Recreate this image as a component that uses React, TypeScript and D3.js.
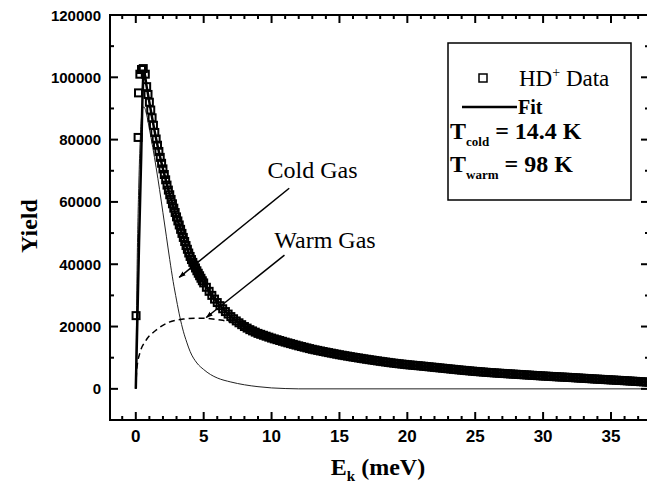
import React from 'react';
import * as d3 from 'd3';

// ---------- data ----------
const dataE = [
  0.02, 0.17, 0.2, 0.3, 0.42, 0.55, 0.7,
  0.8, 0.9, 1.0, 1.1, 1.2, 1.3, 1.4, 1.5, 1.6, 1.7, 1.8, 1.9,
  2.0, 2.1, 2.2, 2.3, 2.4, 2.5, 2.6, 2.7, 2.8, 2.9,
  3.0, 3.1, 3.2, 3.3, 3.4, 3.5, 3.6, 3.7, 3.8, 3.9,
  4.0, 4.1, 4.2, 4.3, 4.4, 4.5, 4.6, 4.7, 4.8, 4.9, 5.0,
  5.2, 5.4, 5.6, 5.8, 6.0, 6.2, 6.4, 6.6, 6.8, 7.0, 7.2, 7.4, 7.6, 7.8,
  8.0, 8.2, 8.4, 8.6, 8.8, 9.0, 9.2, 9.4, 9.6, 9.8,
  10.0, 10.2, 10.4, 10.6, 10.8, 11.0, 11.2, 11.4, 11.6, 11.8,
  12.0, 12.2, 12.4, 12.6, 12.8, 13.0, 13.2, 13.4, 13.6, 13.8,
  14.0, 14.2, 14.4, 14.6, 14.8, 15.0, 15.2, 15.4, 15.6, 15.8,
  16.0, 16.2, 16.4, 16.6, 16.8, 17.0, 17.2, 17.4, 17.6, 17.8,
  18.0, 18.2, 18.4, 18.6, 18.8, 19.0, 19.2, 19.4, 19.6, 19.8,
  20.0, 20.2, 20.4, 20.6, 20.8, 21.0, 21.2, 21.4, 21.6, 21.8,
  22.0, 22.2, 22.4, 22.6, 22.8, 23.0, 23.2, 23.4, 23.6, 23.8,
  24.0, 24.2, 24.4, 24.6, 24.8, 25.0, 25.2, 25.4, 25.6, 25.8,
  26.0, 26.2, 26.4, 26.6, 26.8, 27.0, 27.2, 27.4, 27.6, 27.8,
  28.0, 28.2, 28.4, 28.6, 28.8, 29.0, 29.2, 29.4, 29.6, 29.8,
  30.0, 30.2, 30.4, 30.6, 30.8, 31.0, 31.2, 31.4, 31.6, 31.8,
  32.0, 32.2, 32.4, 32.6, 32.8, 33.0, 33.2, 33.4, 33.6, 33.8,
  34.0, 34.2, 34.4, 34.6, 34.8, 35.0, 35.2, 35.4, 35.6, 35.8,
  36.0, 36.2, 36.4, 36.6, 36.8, 37.0, 37.2, 37.4, 37.6, 37.8,
];
const dataYield = [
  23500, 80700, 95000, 101000, 102500, 102800, 101000,
  97000, 94500, 92000, 89500, 87000, 84600, 82300, 80200, 78200, 76200, 74300, 72400,
  70600, 68800, 67100, 65400, 63800, 62300, 60800, 59400, 58000, 56600,
  55200, 53900, 52600, 51200, 49900, 48600, 47300, 46000, 44800, 43600,
  42500, 41500, 40600, 39700, 38800, 37900, 37100, 36300, 35500, 34700, 34000,
  32600, 31300, 30000, 28800, 27700, 26700, 25700, 24800, 24000, 23200, 22500, 21800, 21200, 20600,
  20000, 19500, 19000, 18600, 18200, 17800, 17500, 17200, 16900, 16600,
  16300, 16030, 15780, 15520, 15260, 15000, 14760, 14520, 14280, 14040,
  13800, 13580, 13360, 13140, 12920, 12700, 12520, 12340, 12160, 11980,
  11800, 11630, 11460, 11290, 11120, 10950, 10800, 10650, 10500, 10350,
  10200, 10060, 9920, 9780, 9640, 9500, 9370, 9240, 9110, 8980,
  8850, 8730, 8610, 8490, 8370, 8250, 8150, 8050, 7950, 7850,
  7750, 7670, 7590, 7510, 7430, 7350, 7260, 7170, 7080, 6990,
  6900, 6810, 6720, 6630, 6540, 6450, 6360, 6270, 6180, 6090,
  6000, 5920, 5840, 5760, 5680, 5600, 5530, 5460, 5390, 5320,
  5250, 5190, 5130, 5070, 5010, 4950, 4900, 4840, 4790, 4730,
  4680, 4620, 4570, 4510, 4460, 4400, 4350, 4290, 4240, 4180,
  4130, 4080, 4030, 3980, 3930, 3880, 3830, 3790, 3740, 3700,
  3650, 3600, 3540, 3490, 3430, 3380, 3330, 3280, 3220, 3170,
  3120, 3070, 3020, 2970, 2920, 2870, 2820, 2770, 2720, 2670,
  2620, 2570, 2510, 2460, 2400, 2350, 2290, 2240, 2180, 2120,
];

const fitE = [0, 0.12, 0.24, 0.4, 0.5, 0.6, 0.8, 1, 1.5, 2, 2.5, 3, 3.5, 4, 4.5, 5, 6, 7, 8, 9, 10, 12, 14, 16, 18, 20, 22, 25, 28, 31, 34, 37.8];
const fitYield = [0, 23000, 47000, 75000, 95000, 102000, 97000, 92000, 80200, 70600, 62300, 55200, 48600, 42500, 37900, 34000, 27700, 23200, 20000, 17800, 16300, 13800, 11800, 10200, 8850, 7750, 6900, 5600, 4680, 3880, 3120, 2120];

const coldE = [0, 0.1, 0.2, 0.3, 0.4, 0.5, 0.6, 0.8, 1.0, 1.25, 1.5, 1.75, 2.0, 2.25, 2.5, 2.75, 3.0, 3.25, 3.5, 3.75, 4.0, 4.5, 5.0, 5.5, 6.0, 7.0, 8.0, 9.0, 10, 11, 12, 37.8];
const coldYield = [0, 40000, 62000, 77000, 86000, 90000, 90500, 88000, 83500, 77500, 71000, 64000, 56500, 49000, 41500, 34500, 28500, 23000, 18500, 15000, 12000, 8300, 6200, 4600, 3500, 2200, 1300, 700, 300, 100, 0, 0];

const warmE = [0, 0.05, 0.12, 0.3, 0.74, 1.48, 2.46, 3.5, 4.5, 5.5, 6.4, 7.4, 8.5, 10, 12, 15, 20, 25, 30, 37.8];
const warmYield = [0, 5000, 8000, 11500, 15500, 18800, 21400, 22400, 22700, 22500, 22000, 20900, 19000, 16500, 13900, 11000, 7750, 5600, 4130, 2120];

const xMajor = [0, 5, 10, 15, 20, 25, 30, 35];
const yMajor = [0, 20000, 40000, 60000, 80000, 100000, 120000];
const xMinor = [-1, 1, 2, 3, 4, 6, 7, 8, 9, 11, 12, 13, 14, 16, 17, 18, 19, 21, 22, 23, 24, 26, 27, 28, 29, 31, 32, 33, 34, 36, 37];
const yMinor = [10000, 30000, 50000, 70000, 90000, 110000];

// annotations in data coordinates
const coldArrow = { from: [11.3, 64400], to: [3.2, 35800] };
const warmArrow = { from: [10.95, 42900], to: [5.19, 22900] };
const coldLabel = { e: 9.7, y: 67700, text: 'Cold Gas' };
const warmLabel = { e: 10.2, y: 45100, text: 'Warm Gas' };

const SERIF = '"Liberation Serif", "Times New Roman", serif';
const SANS = '"Liberation Sans", Arial, sans-serif';

export default function App() {
  const W = 647, H = 487;
  const L = 110, T = 15, R = 649, B = 420;
  const x = d3.scaleLinear().domain([-1.9, 37.8]).range([L, R]);
  const y = d3.scaleLinear().domain([-10000, 120000]).range([B, T]);

  const line = d3.line<[number, number]>()
    .x(d => x(d[0])).y(d => y(d[1]))
    .curve(d3.curveMonotoneX);

  const fitPath = line(fitE.map((e, i) => [e, fitYield[i]]))!;
  const coldPath = line(coldE.map((e, i) => [e, coldYield[i]]))!;
  const warmPath = line(warmE.map((e, i) => [e, warmYield[i]]))!;

  const sq = 7;
  const majLen = 8, minLen = 4;

  return (
    <svg width={W} height={H} style={{ position: 'absolute', left: 0, top: 0, background: '#fff' }}>
      <defs>
        <clipPath id="plotclip">
          <rect x={L} y={T} width={R - L} height={B - T} />
        </clipPath>
        <marker id="arrowhead" viewBox="0 0 10 10" refX="9" refY="5" markerWidth="7" markerHeight="7" orient="auto" markerUnits="userSpaceOnUse">
          <path d="M0,1.5 L10,5 L0,8.5 Z" fill="#000" />
        </marker>
      </defs>
      <rect x={0} y={0} width={W} height={H} fill="#fff" />

      <g clipPath="url(#plotclip)">
        {/* cold gas */}
        <path d={coldPath} fill="none" stroke="#222" strokeWidth={1} />
        {/* warm gas */}
        <path d={warmPath} fill="none" stroke="#000" strokeWidth={1.5} strokeDasharray="6,4" />
        {/* fit */}
        <path d={fitPath} fill="none" stroke="#000" strokeWidth={2.5} />
        {/* data */}
        {dataE.map((e, i) => (
          <rect key={i} x={x(e) - sq / 2} y={y(dataYield[i]) - sq / 2} width={sq} height={sq}
            fill="none" stroke="#000" strokeWidth={2} />
        ))}
      </g>

      {/* arrows */}
      <line x1={x(coldArrow.from[0])} y1={y(coldArrow.from[1])} x2={x(coldArrow.to[0])} y2={y(coldArrow.to[1])}
        stroke="#000" strokeWidth={1.5} markerEnd="url(#arrowhead)" />
      <line x1={x(warmArrow.from[0])} y1={y(warmArrow.from[1])} x2={x(warmArrow.to[0])} y2={y(warmArrow.to[1])}
        stroke="#000" strokeWidth={1.5} markerEnd="url(#arrowhead)" />
      <text x={x(coldLabel.e)} y={y(coldLabel.y)} fontFamily={SERIF} fontSize={24} fill="#000">{coldLabel.text}</text>
      <text x={x(warmLabel.e)} y={y(warmLabel.y)} fontFamily={SERIF} fontSize={24} fill="#000">{warmLabel.text}</text>

      {/* frame */}
      <rect x={L} y={T} width={R - L} height={B - T} fill="none" stroke="#000" strokeWidth={2} />

      {/* x ticks bottom & top */}
      {xMajor.map(v => (
        <g key={'xM' + v}>
          <line x1={x(v)} x2={x(v)} y1={B} y2={B - majLen} stroke="#000" strokeWidth={2} />
          <line x1={x(v)} x2={x(v)} y1={T} y2={T + majLen} stroke="#000" strokeWidth={2} />
          <text x={x(v)} y={442} textAnchor="middle" fontFamily={SANS} fontWeight="bold" fontSize={17}>{v}</text>
        </g>
      ))}
      {xMinor.map(v => (
        <g key={'xm' + v}>
          <line x1={x(v)} x2={x(v)} y1={B} y2={B - minLen} stroke="#000" strokeWidth={2} />
          <line x1={x(v)} x2={x(v)} y1={T} y2={T + minLen} stroke="#000" strokeWidth={2} />
        </g>
      ))}
      {/* y ticks left & right */}
      {yMajor.map(v => (
        <g key={'yM' + v}>
          <line x1={L} x2={L + majLen} y1={y(v)} y2={y(v)} stroke="#000" strokeWidth={2} />
          <line x1={R} x2={R - majLen} y1={y(v)} y2={y(v)} stroke="#000" strokeWidth={2} />
          <text x={101} y={y(v) + 5.5} textAnchor="end" fontFamily={SANS} fontWeight="bold" fontSize={15}>{v}</text>
        </g>
      ))}
      {yMinor.map(v => (
        <g key={'ym' + v}>
          <line x1={L} x2={L + minLen} y1={y(v)} y2={y(v)} stroke="#000" strokeWidth={2} />
          <line x1={R} x2={R - minLen} y1={y(v)} y2={y(v)} stroke="#000" strokeWidth={2} />
        </g>
      ))}

      {/* axis titles */}
      <text transform="translate(37,226) rotate(-90)" textAnchor="middle" fontFamily={SERIF} fontWeight="bold" fontSize={24}>Yield</text>
      <text x={378} y={475} textAnchor="middle" fontFamily={SERIF} fontWeight="bold" fontSize={24}>
        E<tspan fontSize={15} dy={6}>k</tspan><tspan dy={-6}> (meV)</tspan>
      </text>

      {/* legend */}
      <rect x={448} y={43} width={183} height={157} fill="#fff" stroke="#000" strokeWidth={1.5} />
      <rect x={483 - 4} y={78 - 4} width={8} height={8} fill="none" stroke="#000" strokeWidth={1.5} />
      <text x={519} y={86} fontFamily={SERIF} fontSize={23}>
        HD<tspan fontSize={14} dy={-9}>+</tspan><tspan dy={9}> Data</tspan>
      </text>
      <line x1={462} x2={517} y1={107} y2={107} stroke="#000" strokeWidth={2.5} />
      <text x={518} y={114} fontFamily={SERIF} fontWeight="bold" fontSize={20}>Fit</text>
      <text x={450} y={139} fontFamily={SERIF} fontWeight="bold" fontSize={24}>
        T<tspan fontSize={13} dy={7}>cold</tspan><tspan dy={-7}> = 14.4 K</tspan>
      </text>
      <text x={450} y={172} fontFamily={SERIF} fontWeight="bold" fontSize={24}>
        T<tspan fontSize={13} dy={7}>warm</tspan><tspan dy={-7}> = 98 K</tspan>
      </text>
    </svg>
  );
}
